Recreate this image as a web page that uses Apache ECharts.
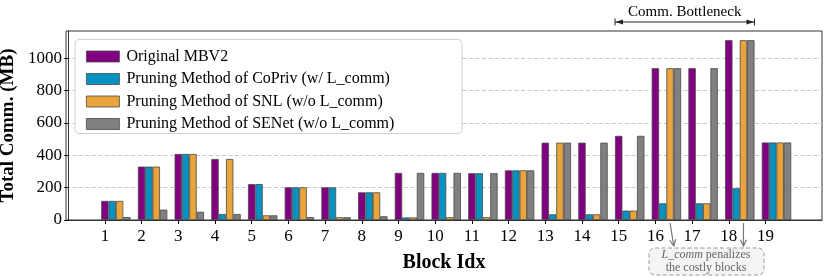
<!DOCTYPE html>
<html><head><meta charset="utf-8">
<script src="https://cdn.jsdelivr.net/npm/echarts@6/dist/echarts.min.js"></script>
<style>html,body{margin:0;padding:0;background:#fff}#c{width:830px;height:277px}</style>
</head><body><div id="c"></div>
<script>
const blocks = [1,2,3,4,5,6,7,8,9,10,11,12,13,14,15,16,17,18,19];
const seriesNames = ['Original MBV2','Pruning Method of CoPriv (w/ L_comm)','Pruning Method of SNL (w/o L_comm)','Pruning Method of SENet (w/o L_comm)'];
const original = [118,330,408,377,222,202,202,171,291,291,289,307,478,478,520,938,938,1111,479];
const copriv   = [118,330,408,37,222,202,202,171,16,291,289,307,35,35,58,103,103,196,479];
const snl      = [118,330,408,377,29,202,17,171,16,17,17,307,478,35,58,938,103,1111,479];
const senet    = [18,64,51,37,29,18,17,23,291,291,289,307,478,478,520,938,938,1111,479];
const yTicks = [0,200,400,600,800,1000];
const colors = ['#800080','#0892C2','#E9A43C','#808080'];
const FONT = 'Liberation Serif';
const all = [original, copriv, snl, senet];
const BW = 0.2;

const chart = echarts.init(document.getElementById('c'));
const series = all.map((arr, k) => ({
  name: seriesNames[k], type: 'bar', barWidth: 7.4, barGap: '-100%',
  data: arr.map((v, i) => [blocks[i] + k*BW, v]),
  itemStyle: {color: colors[k], borderColor: '#4a4a4a', borderWidth: 0.8},
  emphasis: {disabled: true}, z: 2
}));
chart.setOption({
  animation: false,
  textStyle: {fontFamily: FONT},
  grid: {left: 66, right: 8, top: 31, bottom: 57, show: true, borderColor: '#333', borderWidth: 1, backgroundColor: 'transparent', containLabel: false, outerBoundsMode: 'none'},
  xAxis: {
    type: 'value', min: blocks[0] - 1.06, max: blocks[blocks.length-1] + 1.54,
    name: 'Block Idx', nameLocation: 'middle', nameGap: 33,
    nameTextStyle: {fontFamily: FONT, fontSize: 20, fontWeight: 'bold', color: '#000'},
    axisLine: {show: true, lineStyle: {color: '#333'}},
    axisTick: {show: true, customValues: blocks, length: 4, lineStyle: {color: '#000'}},
    axisLabel: {customValues: blocks, fontFamily: FONT, fontSize: 17, color: '#000', margin: 8, formatter: v => String(v)},
    splitLine: {show: false}
  },
  yAxis: {
    type: 'value', min: 0, max: 1168,
    name: 'Total Comm. (MB)', nameLocation: 'middle', nameGap: 38,
    nameTextStyle: {fontFamily: FONT, fontSize: 19, fontWeight: 'bold', color: '#000'},
    axisLine: {show: true, lineStyle: {color: '#333'}},
    axisTick: {show: true, customValues: yTicks, length: 4, lineStyle: {color: '#000'}},
    axisLabel: {customValues: yTicks, fontFamily: FONT, fontSize: 17, color: '#000', margin: 4, formatter: v => String(v)},
    splitLine: {show: true, lineStyle: {color: '#c8c8c8', type: [4, 2.5], width: 1}}
  },
  legend: {
    orient: 'vertical', left: 81, top: 43.5, itemWidth: 33, itemHeight: 11, itemGap: 6.5,
    icon: 'rect', z: 5, selectedMode: false,
    textStyle: {fontFamily: FONT, fontSize: 16, color: '#000', lineHeight: 16, padding: [0,0,0,2]},
    itemStyle: {borderColor: '#4a4a4a', borderWidth: 0.8},
    data: seriesNames
  },
  series: series
});

// annotations (positions derived from axes)
const px = (x, y) => chart.convertToPixel({gridIndex: 0}, [x, y]);
const plotTop = px(15, 1168)[1];
const xl = px(15 - BW/2, 0)[0], xr = px(18 + 3*BW + BW/2, 0)[0];
const ay = plotTop - 9;
const g = [];
g.push({type: 'rect', shape: {x: 75, y: 39.5, width: 387, height: 94, r: 4}, style: {fill: 'rgba(255,255,255,0.9)', stroke: '#d0d0d0', lineWidth: 1}, z: 4});
g.push({type: 'line', shape: {x1: xl, y1: ay, x2: xr, y2: ay}, style: {stroke: '#222', lineWidth: 1}, z: 10});
g.push({type: 'line', shape: {x1: xl, y1: ay-3.5, x2: xl, y2: ay+3.5}, style: {stroke: '#222', lineWidth: 1}, z: 10});
g.push({type: 'line', shape: {x1: xr, y1: ay-3.5, x2: xr, y2: ay+3.5}, style: {stroke: '#222', lineWidth: 1}, z: 10});
g.push({type: 'polygon', shape: {points: [[xl+0.5, ay], [xl+8, ay-2.5], [xl+8, ay+2.5]]}, style: {fill: '#222'}, z: 10});
g.push({type: 'polygon', shape: {points: [[xr-0.5, ay], [xr-8, ay-2.5], [xr-8, ay+2.5]]}, style: {fill: '#222'}, z: 10});
g.push({type: 'text', style: {text: 'Comm. Bottleneck', x: (xl+xr)/2, y: ay-10, align: 'center', verticalAlign: 'middle', fontFamily: FONT, fontSize: 15, fill: '#000'}, z: 10});
function arrow(x1, y1, x2, y2) {
  const ang = Math.atan2(y2 - y1, x2 - x1), L = 7, w = 0.45;
  g.push({type: 'line', shape: {x1, y1, x2, y2}, style: {stroke: '#777', lineWidth: 1.2}, z: 10});
  g.push({type: 'polyline', shape: {points: [[x2 - L*Math.cos(ang - w), y2 - L*Math.sin(ang - w)], [x2, y2], [x2 - L*Math.cos(ang + w), y2 - L*Math.sin(ang + w)]]}, style: {stroke: '#777', lineWidth: 1.2, fill: null}, z: 10});
}
arrow(px(16.4, 0)[0], 223, px(16.5, 0)[0], 246);
arrow(px(18.4, 0)[0], 223, px(18.4, 0)[0], 246);
g.push({type: 'rect', shape: {x: 649, y: 248, width: 115, height: 27, r: 6}, style: {fill: '#f4f4f4', stroke: '#999', lineWidth: 1, lineDash: [4, 2.5]}, z: 10});
g.push({type: 'text', style: {text: '{i|L_comm} penalizes\nthe costly blocks', x: 706, y: 261.5, align: 'center', verticalAlign: 'middle', fontFamily: FONT, fontSize: 12, lineHeight: 12.5, fill: '#666',
  rich: {i: {fontStyle: 'italic', fontFamily: FONT, fontSize: 12, fill: '#666'}}}, z: 11});
chart.setOption({graphic: g});
</script></body></html>
